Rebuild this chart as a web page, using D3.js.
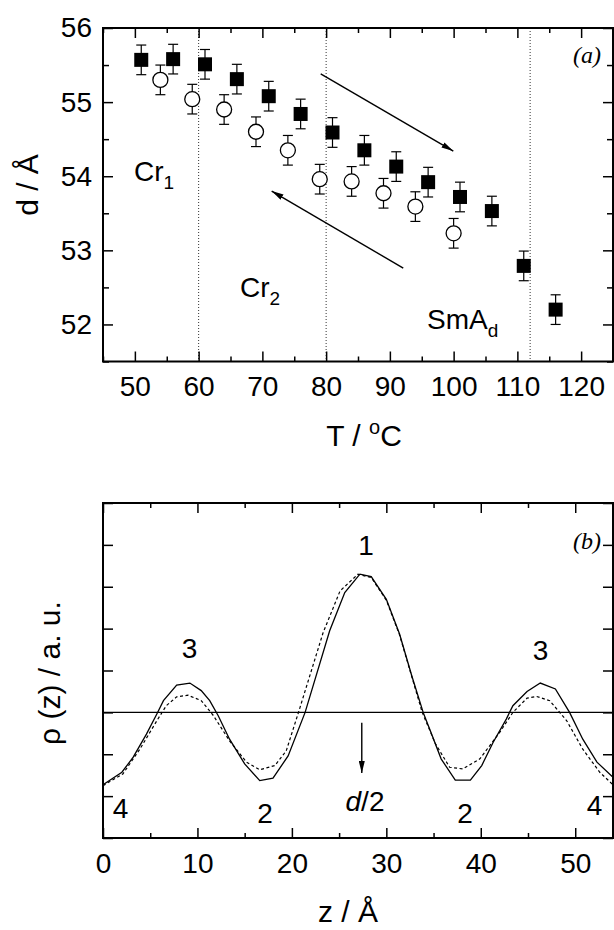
<!DOCTYPE html>
<html>
<head>
<meta charset="utf-8">
<script src="https://cdn.jsdelivr.net/npm/d3@7"></script>
<style>
  body { margin: 0; background: #fff; }
  svg text { font-family: "Liberation Sans", Arial, sans-serif; fill: #000; }
  .domain { display: none; }
</style>
</head>
<body>
<svg id="chart" width="614" height="930"></svg>
<script>
// (a) layer spacing d vs temperature, heating (filled) and cooling (open)
const heatT = [51, 56, 61, 66, 71, 76, 81, 86, 91, 96, 101, 106, 111, 116];
const heatD = [55.57, 55.58, 55.51, 55.31, 55.08, 54.84, 54.59, 54.35, 54.13, 53.92, 53.72, 53.53, 52.79, 52.20];
const heatErr = [0.2, 0.2, 0.2, 0.2, 0.2, 0.2, 0.2, 0.2, 0.2, 0.2, 0.2, 0.2, 0.2, 0.2];
const coolT = [54, 59, 64, 69, 74, 79, 84, 89, 94, 100];
const coolD = [55.30, 55.04, 54.90, 54.60, 54.35, 53.96, 53.93, 53.77, 53.59, 53.23];
const coolErr = [0.2, 0.2, 0.2, 0.2, 0.2, 0.2, 0.2, 0.2, 0.2, 0.2];
const phaseT = [60, 80, 112];
const tTicks = [50, 60, 70, 80, 90, 100, 110, 120];
const dTicks = [52, 53, 54, 55, 56];

// (b) electron density profile along z, model (solid) and fit (dashed)
const zSolid = [0, 2.0, 3.2, 4.6, 5.7, 6.4, 7.8, 9.2, 10.4, 11.3, 12.2, 13.4, 15.0, 16.6, 18.0, 19.6, 21.4, 24.0, 25.6, 27.2, 28.4, 30.0, 31.4, 32.7, 33.9, 34.8, 35.8, 37.3, 38.9, 40.1, 41.3, 42.7, 43.4, 44.9, 46.3, 47.9, 49.4, 50.8, 52.3, 54];
const rhoSolid = [-1.73, -1.43, -1.07, -0.52, -0.04, 0.28, 0.65, 0.70, 0.52, 0.28, -0.08, -0.64, -1.23, -1.63, -1.57, -1.04, 0.0, 1.95, 2.86, 3.30, 3.24, 2.70, 1.87, 0.87, 0.0, -0.52, -1.11, -1.62, -1.62, -1.27, -0.72, -0.16, 0.16, 0.50, 0.70, 0.56, 0.0, -0.64, -1.19, -1.55];
const zDash = [0, 2.1, 3.9, 5.7, 6.7, 7.8, 9.0, 10.4, 11.7, 13.4, 15.2, 16.6, 18.2, 19.4, 20.7, 23.3, 25.1, 27.0, 28.4, 30.0, 31.4, 32.7, 33.8, 35.2, 36.7, 38.1, 39.9, 42.0, 43.4, 44.9, 45.9, 47.3, 49.1, 50.8, 52.6, 54];
const rhoDash = [-1.75, -1.47, -0.88, -0.20, 0.16, 0.37, 0.41, 0.28, -0.08, -0.68, -1.19, -1.37, -1.27, -0.92, 0.0, 1.90, 2.90, 3.30, 3.22, 2.68, 1.85, 0.85, 0.0, -0.75, -1.31, -1.35, -1.11, -0.48, 0.0, 0.34, 0.38, 0.28, -0.20, -0.88, -1.43, -1.73];
const zTicks = [0, 10, 20, 30, 40, 50];
const rhoTicks = [-3, -2, -1, 0, 1, 2, 3, 4, 5];

const svg = d3.select("#chart");

svg.append("defs").append("marker")
  .attr("id", "head").attr("viewBox", "0 0 12 6")
  .attr("refX", 12).attr("refY", 3)
  .attr("markerWidth", 12).attr("markerHeight", 6)
  .attr("markerUnits", "userSpaceOnUse").attr("orient", "auto")
  .append("path").attr("d", "M0,0 L12,3 L0,6 Z").attr("fill", "#000");

// frame with inward ticks on all four sides
function drawFrame(x, y, xMajor, xMinor, yMajor, yMinor, yLabels) {
  const [x0, x1] = x.range(), [y0, y1] = y.range();
  const g = svg.append("g");
  g.append("g").attr("transform", `translate(0,${y0})`)
    .call(d3.axisBottom(x).tickValues(xMajor).tickSize(-10).tickPadding(15).tickFormat(d3.format("d")));
  g.append("g").attr("transform", `translate(0,${y0})`)
    .call(d3.axisBottom(x).tickValues(xMinor).tickSize(-5).tickFormat(""));
  g.append("g").attr("transform", `translate(0,${y1})`)
    .call(d3.axisTop(x).tickValues(xMajor).tickSize(-10).tickFormat(""));
  g.append("g").attr("transform", `translate(0,${y1})`)
    .call(d3.axisTop(x).tickValues(xMinor).tickSize(-5).tickFormat(""));
  g.append("g").attr("transform", `translate(${x0},0)`)
    .call(d3.axisLeft(y).tickValues(yMajor).tickSize(-10).tickPadding(11).tickFormat(yLabels ? d3.format("d") : ""));
  g.append("g").attr("transform", `translate(${x1},0)`)
    .call(d3.axisRight(y).tickValues(yMajor).tickSize(-10).tickFormat(""));
  if (yMinor.length) {
    g.append("g").attr("transform", `translate(${x0},0)`)
      .call(d3.axisLeft(y).tickValues(yMinor).tickSize(-6).tickFormat(""));
    g.append("g").attr("transform", `translate(${x1},0)`)
      .call(d3.axisRight(y).tickValues(yMinor).tickSize(-6).tickFormat(""));
  }
  g.selectAll("g").attr("font-size", 28).attr("font-family", null);
  g.selectAll(".tick line").attr("stroke-width", 1.5);
  g.append("rect").attr("x", x0).attr("y", y1).attr("width", x1 - x0).attr("height", y0 - y1)
    .attr("fill", "none").attr("stroke", "#000").attr("stroke-width", 2);
}

// ---------- panel (a) ----------
const xa = d3.scaleLinear().domain([45, 125]).range([103, 613]);
const ya = d3.scaleLinear().domain([51.5, 56]).range([361.5, 28]);

svg.append("g").selectAll("line").data(phaseT).join("line")
  .attr("x1", d => xa(d)).attr("x2", d => xa(d))
  .attr("y1", ya.range()[1]).attr("y2", ya.range()[0])
  .attr("stroke", "#333").attr("stroke-width", 1).attr("stroke-dasharray", "1,2");

drawFrame(xa, ya, tTicks, d3.range(45, 126, 5).filter(v => v % 10),
  dTicks, [51.5, 52.5, 53.5, 54.5, 55.5], true);

function errBars(T, D, E) {
  const g = svg.append("g").attr("stroke", "#000").attr("stroke-width", 1.2);
  T.forEach((t, i) => {
    const cx = xa(t), top = ya(D[i] + E[i]), bot = ya(D[i] - E[i]);
    g.append("line").attr("x1", cx).attr("x2", cx).attr("y1", top).attr("y2", bot);
    g.append("line").attr("x1", cx - 5).attr("x2", cx + 5).attr("y1", top).attr("y2", top);
    g.append("line").attr("x1", cx - 5).attr("x2", cx + 5).attr("y1", bot).attr("y2", bot);
  });
}
errBars(heatT, heatD, heatErr);
errBars(coolT, coolD, coolErr);

svg.append("g").selectAll("rect").data(heatT).join("rect")
  .attr("x", d => xa(d) - 7).attr("y", (d, i) => ya(heatD[i]) - 7)
  .attr("width", 14).attr("height", 14).attr("fill", "#000");
svg.append("g").selectAll("circle").data(coolT).join("circle")
  .attr("cx", d => xa(d)).attr("cy", (d, i) => ya(coolD[i])).attr("r", 7.5)
  .attr("fill", "#fff").attr("stroke", "#000").attr("stroke-width", 1.3);

// heating / cooling arrows
[[79.15, 55.38, 99.95, 54.34], [92.1, 52.76, 71.46, 53.80]].forEach(a => {
  svg.append("line")
    .attr("x1", xa(a[0])).attr("y1", ya(a[1])).attr("x2", xa(a[2])).attr("y2", ya(a[3]))
    .attr("stroke", "#000").attr("stroke-width", 1.4).attr("marker-end", "url(#head)");
});

function subLabel(x, y, main, sub) {
  const t = svg.append("text").attr("x", x).attr("y", y).attr("font-size", 28);
  t.append("tspan").text(main);
  t.append("tspan").attr("font-size", 19).attr("dy", 8).text(sub);
}
subLabel(134, 181, "Cr", "1");
subLabel(240, 297, "Cr", "2");
subLabel(427, 329, "SmA", "d");

svg.append("text").attr("x", 601).attr("y", 63).attr("text-anchor", "end")
  .attr("font-size", 24).style("font-family", "'Liberation Serif', serif").attr("font-style", "italic").text("(a)");

svg.append("text").attr("transform", "translate(38,185) rotate(-90)").attr("text-anchor", "middle")
  .attr("font-size", 30).text("d / Å");
const tTitle = svg.append("text").attr("x", 364).attr("y", 446).attr("text-anchor", "middle").attr("font-size", 30);
tTitle.append("tspan").text("T / ");
tTitle.append("tspan").attr("font-size", 20).attr("dy", -12).text("o");
tTitle.append("tspan").attr("dy", 12).text("C");

// ---------- panel (b) ----------
const xb = d3.scaleLinear().domain([0, 54]).range([103, 613]);
const yb = d3.scaleLinear().domain([-3, 5]).range([838, 503]);

drawFrame(xb, yb, zTicks, d3.range(5, 54, 10), rhoTicks, [], false);

svg.append("line").attr("x1", xb(0)).attr("x2", xb(54)).attr("y1", yb(0)).attr("y2", yb(0))
  .attr("stroke", "#000").attr("stroke-width", 1.2);

const line = d3.line().x(d => xb(d[0])).y(d => yb(d[1]));
svg.append("path").datum(zDash.map((z, i) => [z, rhoDash[i]])).attr("d", line)
  .attr("fill", "none").attr("stroke", "#000").attr("stroke-width", 1.2).attr("stroke-dasharray", "3,2.5");
svg.append("path").datum(zSolid.map((z, i) => [z, rhoSolid[i]])).attr("d", line)
  .attr("fill", "none").attr("stroke", "#000").attr("stroke-width", 1.3);

const peakLabels = [["1", 366, 555], ["3", 189.5, 658], ["3", 540.5, 660], ["4", 120.5, 818],
  ["2", 265, 823], ["2", 465, 823], ["4", 594.5, 815]];
svg.append("g").selectAll("text").data(peakLabels).join("text")
  .attr("x", d => d[1]).attr("y", d => d[2]).attr("text-anchor", "middle").attr("font-size", 28)
  .text(d => d[0]);

svg.append("line").attr("x1", xb(27.4)).attr("x2", xb(27.4)).attr("y1", yb(-0.25)).attr("y2", yb(-1.45))
  .attr("stroke", "#000").attr("stroke-width", 1.4).attr("marker-end", "url(#head)");
const dh = svg.append("text").attr("x", 365).attr("y", 811).attr("text-anchor", "middle").attr("font-size", 28);
dh.append("tspan").attr("font-style", "italic").text("d");
dh.append("tspan").text("/2");

svg.append("text").attr("x", 601).attr("y", 549).attr("text-anchor", "end")
  .attr("font-size", 24).style("font-family", "'Liberation Serif', serif").attr("font-style", "italic").text("(b)");

svg.append("text").attr("transform", "translate(60,673) rotate(-90)").attr("text-anchor", "middle")
  .attr("font-size", 30).text("ρ (z) / a. u.");
svg.append("text").attr("x", 348).attr("y", 922).attr("text-anchor", "middle")
  .attr("font-size", 30).text("z / Å");
</script>
</body>
</html>
